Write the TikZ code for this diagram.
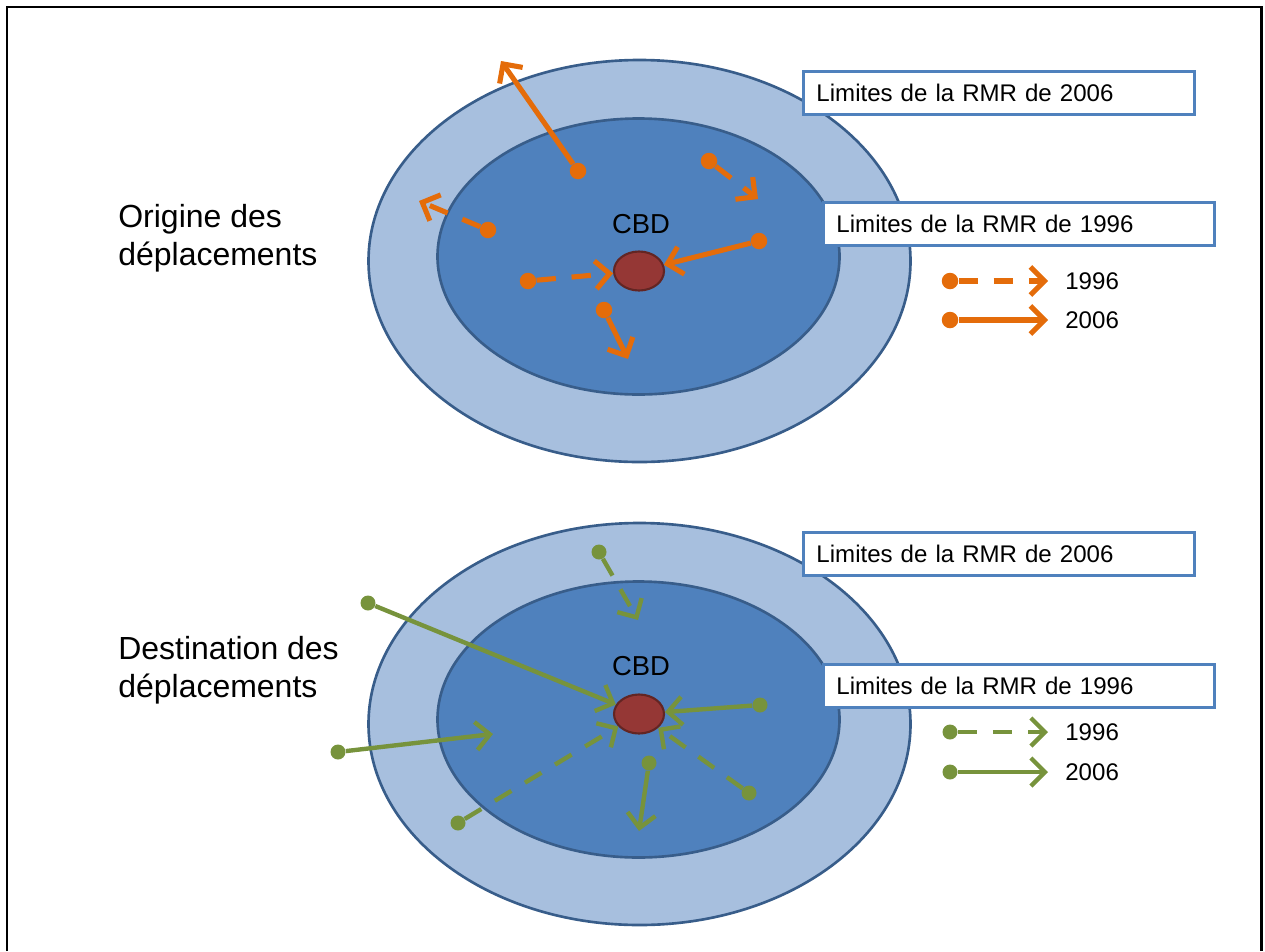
\documentclass[tikz,border=0pt]{standalone}
\usepackage{fontspec}
\setmainfont{Liberation Sans}
\usetikzlibrary{arrows.meta,shapes.geometric,positioning}
\definecolor{ringout}{RGB}{167,191,222}
\definecolor{ringin}{RGB}{79,129,189}
\definecolor{ringline}{RGB}{56,93,138}
\definecolor{cbdred}{RGB}{149,55,53}
\definecolor{cbdline}{RGB}{99,37,35}
\definecolor{orig}{RGB}{228,108,10}
\definecolor{dest}{RGB}{119,147,60}
\begin{document}
\begin{tikzpicture}[x=0.02cm,y=-0.02cm,
	limbox/.style={draw=ringin,line width=1.7pt,fill=white,anchor=north west,minimum width=7.82cm,minimum height=0.86cm,text width=7.3cm,inner xsep=0.26cm,align=left,font=\fontsize{13.7}{16}\selectfont},
	cbd/.style={ellipse,draw=cbdline,line width=1.2pt,fill=cbdred,minimum width=1cm,minimum height=0.78cm,inner sep=0pt},
	cbdlabel/.style={anchor=base,inner sep=0pt,font=\fontsize{15.6}{18}\selectfont},
	heading/.style={anchor=base west,inner sep=0pt,align=left,font=\fontsize{18.2}{21.6}\selectfont},
	odot/.style={circle,fill=orig,minimum size=0.33cm,inner sep=0pt},
	gdot/.style={circle,fill=dest,minimum size=0.3cm,inner sep=0pt},
	orig96/.style={orig,line width=2.9pt,dash pattern=on 11pt off 9pt,-{Straight Barb[length=8pt,width=16pt]}},
	orig06/.style={orig,line width=2.9pt,-{Straight Barb[length=8pt,width=16pt]}},
	dest96/.style={dest,line width=2.5pt,dash pattern=on 11pt off 9pt,-{Straight Barb[length=8pt,width=16pt]}},
	dest06/.style={dest,line width=2.5pt,-{Straight Barb[length=8pt,width=16pt]}},
	yearlab/.style={anchor=west,inner xsep=0.34cm,inner ysep=0pt,font=\fontsize{13.7}{16}\selectfont}]
	\useasboundingbox (0,0) rectangle (1265,951);
	\draw[line width=1.7pt] (7,951) -- (7,7) -- (1261,7) -- (1261,951);

	\foreach \Y in {0,463} {
		\draw[ringline,fill=ringout,line width=1.5pt] (639.5,261+\Y) ellipse [x radius=271,y radius=201];
		\draw[ringline,fill=ringin,line width=1.5pt] (638.5,256.5+\Y) ellipse [x radius=201,y radius=138];
	}

	% origine
	\node[heading] (hdA) at (118,265) {Origine des\\déplacements};
	\node[limbox] (lim06a) at (802,70) {Limites de la RMR de 2006};
	\node[limbox] (lim96a) at (822,201) {Limites de la RMR de 1996};
	\node[cbd] (cbdA) at (639,271) {};
	\node[cbdlabel] (lblA) at (641,233) {CBD};

	\node[odot] (o1) at (578,171) {};
	\node[odot] (o2) at (709,161) {};
	\node[odot] (o3) at (488,230) {};
	\node[odot] (o4) at (759,241) {};
	\node[odot] (o5) at (528,281) {};
	\node[odot] (o6) at (604,310) {};
	\coordinate (t1) at (501,61);
	\coordinate (t2) at (758,199);
	\coordinate (t3) at (419,201);
	\coordinate (t6) at (628,359);
	\draw[orig06] (o1) -- (t1);
	\draw[orig96] (o2) -- (t2);
	\draw[orig96] (o3) -- (t3);
	\draw[orig06] (o4) -- (cbdA);
	\draw[orig96] (o5) -- (cbdA);
	\draw[orig06] (o6) -- (t6);

	\node[odot] (ka) at (950,281) {};
	\node[odot] (kb) at (950,320) {};
	\node[yearlab] (ya) at (1048,281) {1996};
	\node[yearlab] (yb) at (1048,320) {2006};
	\draw[orig96] (ka) -- (ya);
	\draw[orig06] (kb) -- (yb);

	% destination
	\node[heading] (hdB) at (118,697) {Destination des\\déplacements};
	\node[limbox] (lim06b) at (802,531) {Limites de la RMR de 2006};
	\node[limbox] (lim96b) at (822,663) {Limites de la RMR de 1996};
	\node[cbd] (cbdB) at (639,714) {};
	\node[cbdlabel] (lblB) at (641,675) {CBD};

	\node[gdot] (g1) at (599,552) {};
	\node[gdot] (g2) at (368,603) {};
	\node[gdot] (g3) at (760,705) {};
	\node[gdot] (g4) at (338,752) {};
	\node[gdot] (g5) at (458,823) {};
	\node[gdot] (g6) at (649,763) {};
	\node[gdot] (g7) at (749,793) {};
	\coordinate (u1) at (638,620);
	\coordinate (u4) at (493,734);
	\coordinate (u6) at (639,831);
	\draw[dest96] (g1) -- (u1);
	\draw[dest06] (g2) -- (cbdB);
	\draw[dest06] (g3) -- (cbdB);
	\draw[dest06] (g4) -- (u4);
	\draw[dest96] (g5) -- (cbdB);
	\draw[dest06] (g6) -- (u6);
	\draw[dest96] (g7) -- (cbdB);

	\node[gdot] (kc) at (950,732) {};
	\node[gdot] (kd) at (950,772) {};
	\node[yearlab] (yc) at (1048,732) {1996};
	\node[yearlab] (yd) at (1048,772) {2006};
	\draw[dest96] (kc) -- (yc);
	\draw[dest06] (kd) -- (yd);
\end{tikzpicture}
\end{document}
